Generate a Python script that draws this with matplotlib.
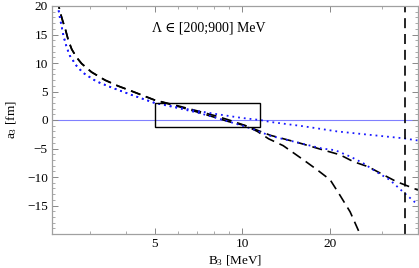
import matplotlib
matplotlib.use("Agg")
import matplotlib.pyplot as plt
from matplotlib.ticker import FixedLocator, MultipleLocator, NullFormatter, FixedFormatter
from matplotlib.patches import Rectangle

plt.rcParams['font.family'] = ['Liberation Serif', 'DejaVu Serif']
plt.rcParams['mathtext.fontset'] = 'custom'
plt.rcParams['mathtext.rm'] = 'Liberation Serif'
plt.rcParams['mathtext.it'] = 'Liberation Serif'

# Curve A: black dashed (middle)
bA = [2.30, 2.34, 2.37, 2.42, 2.47, 2.53, 2.60, 2.70, 2.81, 3.04, 3.38, 3.75, 4.22, 5.0, 6.0, 7.0, 8.0, 9.0, 10.0,
      11.0, 12.5, 15.6, 18.75, 21.6, 24.0, 27.0, 30.4, 33.7, 37.4, 40.0]
aA = [23.0, 20.3, 19.0, 17.4, 16.0, 14.0, 12.4, 11.0, 9.9, 8.4, 7.0, 5.96, 4.97, 3.5, 2.5, 1.6, 0.8, 0.0, -0.8,
      -1.6, -2.7, -4.0, -5.2, -6.1, -7.3, -8.2, -9.6, -10.8, -11.7, -12.3]

# Curve B: black dashed (steep)
bB = [2.30, 2.34, 2.37, 2.42, 2.47, 2.53, 2.60, 2.70, 2.81, 3.04, 3.38, 3.75, 4.22, 5.0, 6.0, 7.0, 8.0, 9.0, 10.26,
      11.25, 12.3, 13.8, 16.2, 18.0, 20.0, 21.6, 23.4, 25.3, 26.0]
aB = [23.0, 20.3, 19.0, 17.4, 16.0, 14.0, 12.4, 11.0, 9.9, 8.4, 7.0, 5.96, 4.97, 3.5, 2.4, 1.4, 0.5, -0.3, -1.0,
      -2.0, -3.3, -4.5, -7.0, -8.7, -10.5, -13.2, -16.1, -20.0, -21.5]

# Curve C: blue dotted (upper)
bC = [2.30, 2.33, 2.37, 2.44, 2.50, 2.56, 2.70, 2.84, 3.15, 3.56, 4.17, 5.0, 6.0, 7.0, 8.0, 9.0, 10.0, 11.5,
      12.5, 16.2, 21.1, 27.3, 35.5, 40.0]
aC = [22.5, 20.0, 17.8, 14.6, 12.7, 11.3, 9.5, 8.3, 6.8, 5.7, 4.4, 3.0, 2.2, 1.6, 1.1, 0.7, 0.35, 0.0,
      -0.35, -1.1, -2.0, -2.6, -3.2, -3.6]

# Curve D: blue dotted (lower)
bD = [2.30, 2.33, 2.37, 2.44, 2.50, 2.56, 2.70, 2.84, 3.15, 3.56, 4.17, 5.0, 6.0, 7.0, 8.0, 9.0, 10.0, 11.0,
      12.5, 15.6, 18.75, 20.8, 23.4, 26.0, 28.8, 32.0, 35.0, 40.0]
aD = [22.5, 20.0, 17.8, 14.6, 12.7, 11.3, 9.5, 8.3, 6.8, 5.7, 4.4, 3.0, 2.1, 1.3, 0.5, -0.3, -1.0, -1.7,
      -2.8, -4.0, -5.0, -5.3, -6.4, -7.6, -9.1, -10.5, -12.3, -14.9]

pole_B = 36.0
box_x = [5.0, 11.5]
box_y = [-1.3, 3.0]

x_major = [5, 10, 20]
x_minor = [3, 4, 6, 7, 8, 9, 30]
y_major = [-15, -10, -5, 0, 5, 10, 15, 20]
y_labels = ['\u221215', '\u221210', '\u22125', '0', '5', '10', '15', '20']

fig = plt.figure(figsize=(4.19, 2.68), dpi=100)
ax = fig.add_axes([52/419, 34/268, 366/419, 228/268])

ax.axhline(0, color='#8080ff', lw=0.8, zorder=1)

dash = (0, (6, 3.5))
ax.plot(bA, aA, color='black', lw=1.2, linestyle=dash)
ax.plot(bB, aB, color='black', lw=1.2, linestyle=dash)
ax.plot(bC, aC, color='#1a1aff', lw=1.3, linestyle=(0, (1, 2.2)))
ax.plot(bD, aD, color='#1a1aff', lw=1.3, linestyle=(0, (1, 2.2)))
ax.axvline(pole_B, color='black', lw=1.2, linestyle=(0, (6, 3.5)))

ax.add_patch(Rectangle((box_x[0], box_y[0]), box_x[1]-box_x[0], box_y[1]-box_y[0],
                       fill=False, edgecolor='black', lw=1.0, zorder=3))

ax.set_xscale('log')
ax.set_xlim(2.2246, 40)
ax.set_ylim(-20, 20)

ax.xaxis.set_major_locator(FixedLocator(x_major))
ax.xaxis.set_major_formatter(FixedFormatter([str(v) for v in x_major]))
ax.xaxis.set_minor_locator(FixedLocator(x_minor))
ax.xaxis.set_minor_formatter(NullFormatter())
ax.yaxis.set_major_locator(FixedLocator(y_major))
ax.yaxis.set_major_formatter(FixedFormatter(y_labels))
ax.yaxis.set_minor_locator(MultipleLocator(1))

for s in ax.spines.values():
    s.set_color('#a0a0a0')
    s.set_linewidth(0.9)
ax.tick_params(which='both', direction='in', top=True, right=True, color='#888888',
               labelsize=9.5, pad=3)
ax.tick_params(which='major', length=4, width=0.7)
ax.tick_params(which='minor', length=2, width=0.5)

ax.set_xlabel(r'B$_3$ [MeV]', fontsize=9.5, labelpad=2)
ax.set_ylabel(r'a$_3$ [fm]', fontsize=9.5, labelpad=6)

ax.text(4.9, 16.1, '\u039b \u2208 [200;900] MeV', fontsize=10, ha='left', va='center')

fig.savefig('out.png', dpi=100)
